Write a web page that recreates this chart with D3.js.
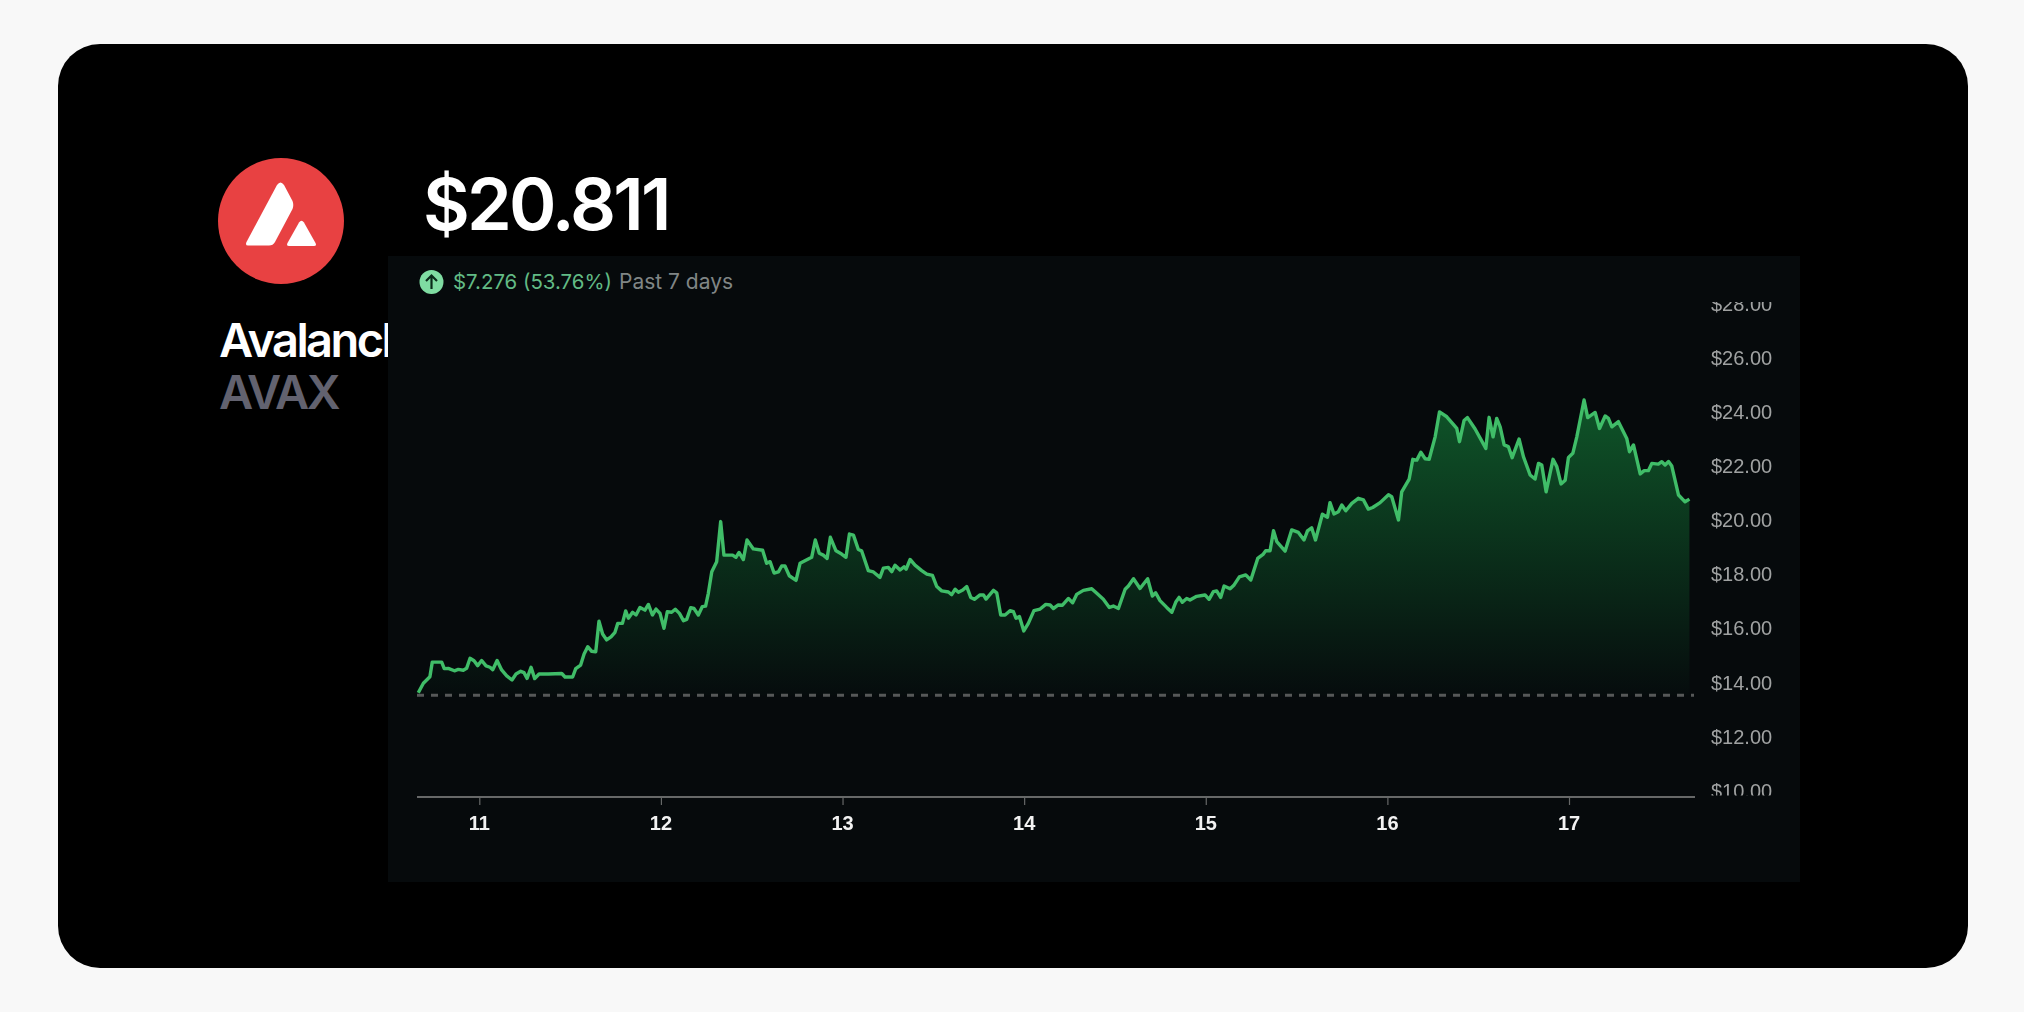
<!DOCTYPE html>
<html>
<head>
<meta charset="utf-8">
<script src="https://cdn.jsdelivr.net/npm/d3@7"></script>
<style>
  html, body { margin: 0; padding: 0; background: #f8f8f8; }
  svg { display: block; }
  .head { font-family: Inter, sans-serif; }
  .axis text { font-family: "Liberation Sans", Arial, sans-serif; }
</style>
</head>
<body>
<div id="chart"></div>
<script>
// day of month for each reading
const days = [10.664,10.692,10.728,10.741,10.793,10.807,10.829,10.863,10.884,10.912,10.930,10.949,10.971,10.991,11.013,11.037,11.059,11.074,11.098,11.123,11.151,11.180,11.202,11.228,11.246,11.263,11.285,11.305,11.329,11.380,11.454,11.472,11.514,11.531,11.558,11.577,11.597,11.619,11.641,11.659,11.679,11.701,11.725,11.747,11.762,11.788,11.806,11.821,11.844,11.863,11.885,11.912,11.931,11.953,11.973,11.995,
  12.017,12.035,12.059,12.079,12.102,12.124,12.142,12.164,12.182,12.206,12.228,12.246,12.261,12.280,12.307,12.329,12.347,12.395,12.413,12.430,12.454,12.474,12.509,12.560,12.582,12.601,12.623,12.647,12.665,12.683,12.707,12.744,12.766,12.830,12.850,12.872,12.894,12.915,12.933,12.964,12.995,
  13.019,13.038,13.060,13.087,13.105,13.142,13.170,13.206,13.225,13.252,13.271,13.289,13.317,13.339,13.350,13.372,13.399,13.436,13.464,13.495,13.519,13.546,13.583,13.601,13.620,13.638,13.662,13.684,13.706,13.726,13.757,13.776,13.790,13.831,13.849,13.871,13.895,13.922,13.941,13.955,13.974,13.998,
  14.023,14.054,14.088,14.119,14.143,14.161,14.188,14.211,14.244,14.267,14.289,14.326,14.372,14.400,14.436,14.469,14.491,14.519,14.556,14.574,14.602,14.638,14.680,14.706,14.724,14.748,14.785,14.813,14.836,14.853,14.871,14.895,14.913,14.950,14.996,
  15.018,15.042,15.060,15.082,15.101,15.134,15.156,15.185,15.220,15.248,15.286,15.317,15.330,15.354,15.373,15.391,15.437,15.473,15.510,15.541,15.560,15.583,15.604,15.642,15.670,15.684,15.706,15.730,15.749,15.771,15.804,15.840,15.868,15.895,15.919,15.960,
  16.006,16.024,16.061,16.079,16.120,16.140,16.162,16.184,16.208,16.230,16.263,16.287,16.327,16.369,16.382,16.397,16.422,16.441,16.483,16.520,16.542,16.560,16.582,16.602,16.621,16.643,16.666,16.687,16.725,16.749,16.786,16.813,16.832,16.850,16.874,16.912,16.933,16.956,16.979,16.997,
  17.021,17.043,17.083,17.103,17.144,17.168,17.199,17.217,17.236,17.272,17.318,17.333,17.355,17.392,17.414,17.437,17.456,17.492,17.511,17.529,17.548,17.566,17.603,17.639,17.663];
const prices = [13.63,13.98,14.22,14.76,14.76,14.52,14.53,14.44,14.49,14.46,14.53,14.90,14.81,14.63,14.82,14.62,14.57,14.48,14.82,14.47,14.25,14.10,14.32,14.42,14.37,14.16,14.57,14.15,14.32,14.32,14.34,14.21,14.21,14.52,14.65,15.06,15.33,15.16,15.14,16.27,15.80,15.58,15.69,15.86,16.19,16.19,16.65,16.38,16.60,16.50,16.78,16.68,16.89,16.50,16.72,16.56,
  16.01,16.62,16.60,16.71,16.56,16.29,16.34,16.77,16.74,16.50,16.81,16.83,17.30,18.10,18.47,19.95,18.71,18.71,18.63,18.81,18.55,19.27,18.94,18.89,18.41,18.47,18.05,18.09,18.31,18.31,17.95,17.78,18.41,18.63,19.27,18.78,18.71,18.59,19.37,18.87,18.75,
  18.63,19.49,19.45,18.92,18.87,18.14,18.09,17.89,18.23,18.26,18.10,18.34,18.16,18.28,18.19,18.55,18.34,18.14,18.01,17.96,17.55,17.39,17.35,17.25,17.45,17.34,17.42,17.55,17.15,17.08,17.24,17.24,17.09,17.41,17.32,16.50,16.50,16.66,16.62,16.38,16.44,15.91,
  16.19,16.66,16.72,16.89,16.87,16.74,16.87,16.86,17.11,16.95,17.26,17.41,17.47,17.30,17.08,16.78,16.83,16.74,17.45,17.57,17.84,17.48,17.84,17.20,17.32,17.03,16.78,16.60,16.99,17.15,16.97,17.11,17.05,17.19,17.24,
  17.08,17.36,17.39,17.15,17.57,17.47,17.61,17.91,17.98,17.79,18.59,18.75,18.87,18.87,19.61,19.21,18.86,19.64,19.55,19.27,19.61,19.72,19.27,20.22,20.11,20.65,20.23,20.31,20.56,20.35,20.62,20.81,20.75,20.41,20.47,20.65,
  20.94,20.87,20.01,21.05,21.52,22.25,22.22,22.51,22.27,22.25,23.08,24.00,23.82,23.49,23.39,22.90,23.68,23.79,23.37,22.92,22.65,23.80,23.08,23.76,23.45,22.78,22.72,22.31,23.00,22.35,21.67,21.52,22.10,22.04,21.05,22.25,21.98,21.34,21.48,22.32,
  22.47,23.08,24.44,23.79,23.98,23.39,23.85,23.76,23.45,23.64,23.02,22.53,22.78,21.71,21.83,21.83,22.10,22.07,22.16,22.04,22.17,22.00,20.93,20.68,20.78];
const basePrice = 13.54;
const dayTicks = [11, 12, 13, 14, 15, 16, 17];
const priceTicks = [10, 12, 14, 16, 18, 20, 22, 24, 26, 28];
const series = days.map((d, i) => ({ day: d, price: prices[i] }));

const width = 2024, height = 1012;

const svg = d3.select("#chart").append("svg")
  .attr("width", width)
  .attr("height", height);

const defs = svg.append("defs");

// card
svg.append("rect")
  .attr("x", 58).attr("y", 44)
  .attr("width", 1910).attr("height", 924)
  .attr("rx", 42)
  .attr("fill", "#000");

// logo
svg.append("circle")
  .attr("cx", 281).attr("cy", 221).attr("r", 63)
  .attr("fill", "#e84142");
svg.append("path")
  .attr("d", "M248 245.5 Q245 245.5 246.5 242 L277 185 Q280.5 180 284 185 L292.5 201 Q294 205 292.5 209 L275 242 Q273 245.5 269 245.5 Z")
  .attr("fill", "#fff");
svg.append("path")
  .attr("d", "M289 246 Q286 246 287.5 243 L299 222.5 Q301.5 219 304 222.5 L315.5 243 Q317 246 314 246 Z")
  .attr("fill", "#fff");

// headline text
svg.append("text").attr("class", "head")
  .attr("x", 423).attr("y", 230)
  .attr("font-size", 72).attr("font-weight", 600)
  .attr("letter-spacing", -2.8)
  .attr("fill", "#fff")
  .text("$20.811");
svg.append("text").attr("class", "head")
  .attr("x", 219).attr("y", 357)
  .attr("font-size", 47).attr("font-weight", 600)
  .attr("letter-spacing", -2.6)
  .attr("fill", "#fff")
  .text("Avalanche");
svg.append("text").attr("class", "head")
  .attr("x", 219).attr("y", 409)
  .attr("font-size", 47).attr("font-weight", 600)
  .attr("letter-spacing", -2.6)
  .attr("fill", "#62626f")
  .text("AVAX");

// pasted chart panel, sits over the name
svg.append("rect")
  .attr("x", 388).attr("y", 256)
  .attr("width", 1412).attr("height", 626)
  .attr("fill", "#060a0c");

// change line
svg.append("circle")
  .attr("cx", 431.5).attr("cy", 282).attr("r", 12)
  .attr("fill", "#7fdca2");
svg.append("path")
  .attr("d", "M431.5 289 V276 M426 281 L431.5 275.5 L437 281")
  .attr("fill", "none")
  .attr("stroke", "#0a2a1a")
  .attr("stroke-width", 2.2);
svg.append("text").attr("class", "head")
  .attr("x", 453).attr("y", 289)
  .attr("font-size", 20.4)
  .attr("fill", "#62bb85")
  .text("$7.276 (53.76%)");
svg.append("text").attr("class", "head")
  .attr("x", 619).attr("y", 289)
  .attr("font-size", 21)
  .attr("fill", "#808686")
  .text("Past 7 days");

// scales
const x = d3.scaleLinear().domain([11, 17]).range([479.3, 1569]);
const y = d3.scaleLinear().domain([10, 28]).range([791, 303.6]);

const grad = defs.append("linearGradient")
  .attr("id", "areaFill")
  .attr("gradientUnits", "userSpaceOnUse")
  .attr("x1", 0).attr("x2", 0)
  .attr("y1", y(d3.max(prices))).attr("y2", y(basePrice));
grad.append("stop").attr("offset", 0).attr("stop-color", "#0f5529");
grad.append("stop").attr("offset", 1).attr("stop-color", "#060c0d");

defs.append("clipPath").attr("id", "labelClip")
  .append("rect")
  .attr("x", 1700).attr("y", 302)
  .attr("width", 90).attr("height", 493.5);

defs.append("filter").attr("id", "soft")
  .append("feGaussianBlur").attr("stdDeviation", 0.4);

const area = d3.area()
  .x(d => x(d.day))
  .y0(y(basePrice))
  .y1(d => y(d.price));
const line = d3.line()
  .x(d => x(d.day))
  .y(d => y(d.price));

svg.append("path")
  .datum(series)
  .attr("d", area)
  .attr("fill", "url(#areaFill)");

// opening price
svg.append("line")
  .attr("x1", 417).attr("x2", 1694)
  .attr("y1", y(basePrice)).attr("y2", y(basePrice))
  .attr("stroke", "#565858")
  .attr("stroke-width", 3)
  .attr("stroke-dasharray", "7 7");

svg.append("path")
  .datum(series)
  .attr("d", line)
  .attr("fill", "none")
  .attr("stroke", "#3fbd68")
  .attr("stroke-width", 3.4)
  .attr("stroke-linejoin", "round")
  .attr("filter", "url(#soft)");

// x axis
const xAxis = svg.append("g")
  .attr("class", "axis")
  .attr("transform", "translate(0,797)")
  .call(d3.axisBottom(x).tickValues(dayTicks).tickFormat(d3.format("d")).tickSize(8).tickSizeOuter(0));
xAxis.select(".domain").remove();
xAxis.append("line")
  .attr("x1", 417).attr("x2", 1695)
  .attr("stroke", "#666868").attr("stroke-width", 1.8);
xAxis.selectAll(".tick line").attr("stroke", "#666868").attr("stroke-width", 1.2);
xAxis.selectAll("text")
  .attr("x", -0.5)
  .attr("y", 19)
  .attr("font-size", 20)
  .attr("font-weight", 700)
  .attr("fill", "#f2f2f2")
  .attr("filter", "url(#soft)");

// y axis, labels cut at the plot edges
const yAxis = svg.append("g")
  .attr("clip-path", "url(#labelClip)")
  .append("g")
  .attr("class", "axis")
  .attr("transform", "translate(1711,0)")
  .call(d3.axisRight(y).tickValues(priceTicks).tickFormat(d => "$" + d3.format(".2f")(d)).tickSize(0));
yAxis.select(".domain").remove();
yAxis.selectAll("text")
  .attr("x", 0)
  .attr("font-size", 20)
  .attr("fill", "#a0a2a2")
  .attr("filter", "url(#soft)");
</script>
</body>
</html>
